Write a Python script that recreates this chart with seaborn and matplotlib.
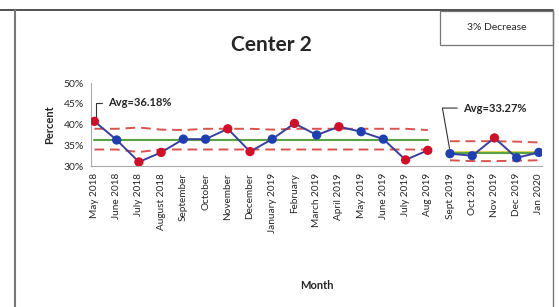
import numpy as np
import pandas as pd
import matplotlib
matplotlib.use("Agg")
import matplotlib.pyplot as plt
import seaborn as sns

months = ["May 2018", "June 2018", "July 2018", "August 2018", "September",
          "October", "November", "December", "January 2019", "February",
          "March 2019", "April 2019", "May 2019", "June 2019", "July 2019",
          "Aug 2019", "Sept 2019", "Oct 2019", "Nov 2019", "Dec 2019", "Jan 2020"]
percent = [40.8, 36.3, 31.0, 33.3, 36.5, 36.5, 39.0, 33.5, 36.5, 40.3, 37.5,
           39.5, 38.3, 36.5, 31.5, 33.8, 33.0, 32.5, 36.8, 32.0, 33.3]
flag = ["red", "blue", "red", "red", "blue", "blue", "red", "red", "blue", "red",
        "blue", "red", "blue", "blue", "red", "red", "blue", "blue", "red", "blue", "blue"]
segment = [1] * 16 + [2] * 5
avg = [36.18] * 16 + [33.27] * 5
upper = [39.0, 39.0, 39.3, 38.8, 38.7, 39.0, 39.0, 39.0, 38.8, 39.0, 39.0,
         39.0, 39.0, 39.0, 39.0, 38.7, 36.0, 36.0, 36.0, 35.9, 35.7]
lower = [34.0, 34.0, 33.4, 34.0, 34.0, 34.0, 34.0, 34.0, 34.0, 34.0, 34.0,
         34.0, 34.0, 34.0, 34.0, 34.0, 31.4, 31.2, 31.2, 31.3, 31.4]

df = pd.DataFrame({"x": range(len(months)), "month": months, "pct": percent,
                   "flag": flag, "seg": segment, "avg": avg,
                   "ucl": upper, "lcl": lower})

sns.set_style("white")
plt.rcParams["font.family"] = ["Lato", "DejaVu Sans"]

fig = plt.figure(figsize=(5.59, 3.07), dpi=100)
ax = fig.add_axes([0.163, 0.459, 0.807, 0.27])

for s, d in df.groupby("seg"):
    sns.lineplot(data=d, x="x", y="ucl", ax=ax, color="#d9534f", lw=1.4,
                 linestyle=(0, (5, 3)))
    sns.lineplot(data=d, x="x", y="lcl", ax=ax, color="#d9534f", lw=1.4,
                 linestyle=(0, (5, 3)))
    ax.plot(d["x"], d["avg"] + 0.25, color="#e8d44d", lw=0.8)
    sns.lineplot(data=d, x="x", y="avg", ax=ax, color="#5aa345", lw=1.5)
    sns.lineplot(data=d, x="x", y="pct", ax=ax, color="#3a3f9e", lw=1.4)

sns.scatterplot(data=df, x="x", y="pct", hue="flag", ax=ax,
                palette={"red": "#d0102a", "blue": "#1f3fb0"},
                s=45, edgecolor="none", legend=False, zorder=5)

ax.set_xlim(-0.15, 20.15)
ax.set_ylim(30, 50)
ax.set_yticks([30, 35, 40, 45, 50])
ax.set_yticklabels([f"{t}%" for t in range(30, 55, 5)], fontsize=7.5)
ax.set_xticks(df["x"])
ax.set_xticklabels(months, rotation=90, fontsize=7.2)
ax.tick_params(axis="both", length=3, color="#999999", pad=2, direction="out")
for sp in ["top", "right"]:
    ax.spines[sp].set_visible(False)
for sp in ["left", "bottom"]:
    ax.spines[sp].set_color("#aaaaaa")
ax.set_xlabel("Month", fontsize=8, fontweight="bold", labelpad=34)
ax.set_ylabel("Percent", fontsize=8, fontweight="bold", labelpad=6)

ax.annotate("Avg=36.18%", xy=(0.05, 40.0), xytext=(0.6, 45.3), fontsize=8,
            fontweight="bold", va="center",
            arrowprops=dict(arrowstyle="-", color="#333333", lw=0.8,
                            connectionstyle="angle,angleA=0,angleB=90,rad=0"))
ax.annotate("Avg=33.27%", xy=(16.0, 33.6), xytext=(16.6, 44.0), fontsize=8,
            fontweight="bold", va="center",
            arrowprops=dict(arrowstyle="-", color="#333333", lw=0.8,
                            connectionstyle="angle,angleA=0,angleB=100,rad=0"))

fig.text(0.485, 0.855, "Center 2", ha="center", va="center", fontsize=15,
         fontweight="bold")

# outer frame and the decrease box
fig.add_artist(plt.Line2D([0.0, 0.99], [0.968, 0.968], color="#333333", lw=1.2))
fig.add_artist(plt.Line2D([0.026, 0.026], [0.0, 0.968], color="#777777", lw=1.5))
fig.add_artist(plt.Line2D([0.99, 0.99], [0.0, 0.968], color="#777777", lw=1.0))
fig.add_artist(plt.Rectangle((0.787, 0.855), 0.203, 0.108, fill=False,
                             edgecolor="#777777", lw=0.9))
fig.text(0.888, 0.909, "3% Decrease", ha="center", va="center", fontsize=7.5)

fig.savefig("out.png", dpi=100)
